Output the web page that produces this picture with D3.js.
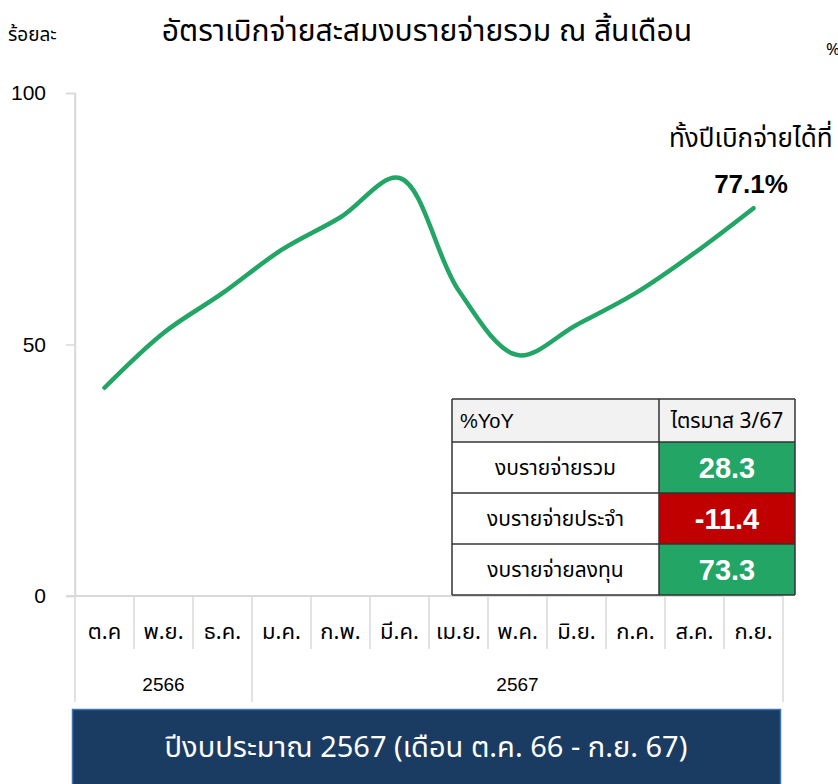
<!DOCTYPE html>
<html>
<head>
<meta charset="utf-8">
<script src="https://cdn.jsdelivr.net/npm/d3@7"></script>
<style>
  body { margin: 0; background: #fff; }
  svg { display: block; font-family: "Noto Sans Thai", "Noto Sans", "Liberation Sans", sans-serif; }
</style>
</head>
<body>
<svg id="chart" width="838" height="784"></svg>
<script>
// monthly cumulative disbursement rate (%)
const months = ["ต.ค", "พ.ย.", "ธ.ค.", "ม.ค.", "ก.พ.", "มี.ค.", "เม.ย.", "พ.ค.", "มิ.ย.", "ก.ค.", "ส.ค.", "ก.ย."];
const rates = [41.4, 52.3, 60.2, 68.8, 75.3, 83.1, 60.8, 47.9, 53.9, 60.2, 68.2, 77.1];
const yearGroups = [
    {label: "2566", from: 0, to: 2},
    {label: "2567", from: 3, to: 11}
];
const yTicks = [0, 50, 100];

const tableHeader = ["%YoY", "ไตรมาส 3/67"];
const tableRows = ["งบรายจ่ายรวม", "งบรายจ่ายประจำ", "งบรายจ่ายลงทุน"];
const tableValues = [28.3, -11.4, 73.3];

const green = "#22a565";
const red = "#c00000";
const gridGray = "#d9d9d9";
const numFont = "Liberation Sans, Arial, sans-serif";

const svg = d3.select("#chart");

const x = d3.scaleBand()
    .domain(months)
    .range([75, 783]);

const y = d3.scaleLinear()
    .domain([0, 100])
    .range([596, 93]);

// title + unit labels
svg.append("text")
    .attr("x", 427).attr("y", 41)
    .attr("text-anchor", "middle")
    .attr("font-size", 30)
    .text("อัตราเบิกจ่ายสะสมงบรายจ่ายรวม ณ สิ้นเดือน");

svg.append("text")
    .attr("x", 8).attr("y", 41)
    .attr("font-size", 19)
    .text("ร้อยละ");

svg.append("text")
    .attr("x", 826).attr("y", 55)
    .attr("font-size", 17)
    .text("%YoY");

// y axis
const yAxis = svg.append("g")
    .attr("transform", "translate(75,0)")
    .call(d3.axisLeft(y).tickValues(yTicks).tickSize(9).tickPadding(20));
yAxis.select(".domain").attr("stroke", gridGray).attr("stroke-width", 1.5);
yAxis.selectAll(".tick line").attr("stroke", gridGray).attr("stroke-width", 1.5);
yAxis.selectAll(".tick text")
    .attr("font-size", 21)
    .attr("fill", "#000")
    .attr("font-family", numFont);

// x baseline
svg.append("line")
    .attr("x1", 66).attr("x2", x.range()[1])
    .attr("y1", y(0)).attr("y2", y(0))
    .attr("stroke", gridGray).attr("stroke-width", 2);

// month dividers and labels
const xAxis = svg.append("g");
months.forEach((m, i) => {
    if (i > 0) {
        const isYearEdge = yearGroups.some(g => g.from === i);
        xAxis.append("line")
            .attr("x1", x(m)).attr("x2", x(m))
            .attr("y1", y(0)).attr("y2", isYearEdge ? 702 : 649)
            .attr("stroke", gridGray).attr("stroke-width", 1.5);
    }
    xAxis.append("text")
        .attr("x", x(m) + x.bandwidth() / 2)
        .attr("y", 639)
        .attr("text-anchor", "middle")
        .attr("font-size", 22)
        .text(m);
});
// outer edges of the category axis
[x.range()[0], x.range()[1]].forEach(px => {
    xAxis.append("line")
        .attr("x1", px).attr("x2", px)
        .attr("y1", px === x.range()[0] ? 93 : y(0)).attr("y2", 702)
        .attr("stroke", gridGray).attr("stroke-width", 1.5);
});
yearGroups.forEach(g => {
    const x0 = x(months[g.from]);
    const x1 = x(months[g.to]) + x.bandwidth();
    xAxis.append("text")
        .attr("x", (x0 + x1) / 2)
        .attr("y", 691)
        .attr("text-anchor", "middle")
        .attr("font-size", 19)
        .attr("font-family", numFont)
        .text(g.label);
});

// the line
const line = d3.line()
    .x((d, i) => x(months[i]) + x.bandwidth() / 2)
    .y(d => y(d))
    .curve(d3.curveCatmullRom.alpha(0.5));

svg.append("path")
    .datum(rates)
    .attr("fill", "none")
    .attr("stroke", green)
    .attr("stroke-width", 4.5)
    .attr("stroke-linecap", "round")
    .attr("d", line);

// end annotation
svg.append("text")
    .attr("x", 669).attr("y", 147)
    .attr("font-size", 26)
    .text("ทั้งปีเบิกจ่ายได้ที่");

const last = rates[rates.length - 1];
svg.append("text")
    .attr("x", 751).attr("y", 193)
    .attr("text-anchor", "middle")
    .attr("font-size", 26)
    .attr("font-weight", "bold")
    .attr("font-family", numFont)
    .text(d3.format(".1f")(last) + "%");

// YoY table
const tX = 452, tCol = 659, tR = 795;
const rowTops = [399, 442, 493, 544, 595];
const table = svg.append("g");

table.append("rect")
    .attr("x", tX).attr("y", rowTops[0])
    .attr("width", tR - tX).attr("height", rowTops[1] - rowTops[0])
    .attr("fill", "#f2f2f2");

tableValues.forEach((v, i) => {
    table.append("rect")
        .attr("x", tX).attr("y", rowTops[i + 1])
        .attr("width", tCol - tX).attr("height", rowTops[i + 2] - rowTops[i + 1])
        .attr("fill", "#fff");
    table.append("rect")
        .attr("x", tCol).attr("y", rowTops[i + 1])
        .attr("width", tR - tCol).attr("height", rowTops[i + 2] - rowTops[i + 1])
        .attr("fill", v < 0 ? red : green);
});

// grid lines
rowTops.forEach(ry => {
    table.append("line")
        .attr("x1", tX).attr("x2", tR).attr("y1", ry).attr("y2", ry)
        .attr("stroke", "#333").attr("stroke-width", 1.5);
});
[tX, tCol, tR].forEach(cx => {
    table.append("line")
        .attr("x1", cx).attr("x2", cx).attr("y1", rowTops[0]).attr("y2", rowTops[4])
        .attr("stroke", "#333").attr("stroke-width", 1.5);
});

table.append("text")
    .attr("x", tX + 8).attr("y", (rowTops[0] + rowTops[1]) / 2 + 7)
    .attr("font-size", 20)
    .attr("font-family", numFont)
    .text(tableHeader[0]);
table.append("text")
    .attr("x", (tCol + tR) / 2).attr("y", (rowTops[0] + rowTops[1]) / 2 + 7)
    .attr("text-anchor", "middle")
    .attr("font-size", 21)
    .text(tableHeader[1]);

tableRows.forEach((r, i) => {
    const cy = (rowTops[i + 1] + rowTops[i + 2]) / 2;
    table.append("text")
        .attr("x", (tX + tCol) / 2).attr("y", cy + 7)
        .attr("text-anchor", "middle")
        .attr("font-size", 21)
        .text(r);
    table.append("text")
        .attr("x", (tCol + tR) / 2).attr("y", cy + 10)
        .attr("text-anchor", "middle")
        .attr("font-size", 29)
        .attr("font-weight", "bold")
        .attr("fill", "#fff")
        .attr("font-family", numFont)
        .text(d3.format(".1f")(tableValues[i]).replace("−", "-"));
});

// fiscal year banner
svg.append("rect")
    .attr("x", 72.5).attr("y", 709.5)
    .attr("width", 708).attr("height", 80)
    .attr("fill", "#1b3c62")
    .attr("stroke", "#3f73b3")
    .attr("stroke-width", 1.5);

svg.append("text")
    .attr("x", 426).attr("y", 757)
    .attr("text-anchor", "middle")
    .attr("font-size", 29)
    .attr("fill", "#fff")
    .text("ปีงบประมาณ 2567 (เดือน ต.ค. 66 - ก.ย. 67)");
</script>
</body>
</html>
